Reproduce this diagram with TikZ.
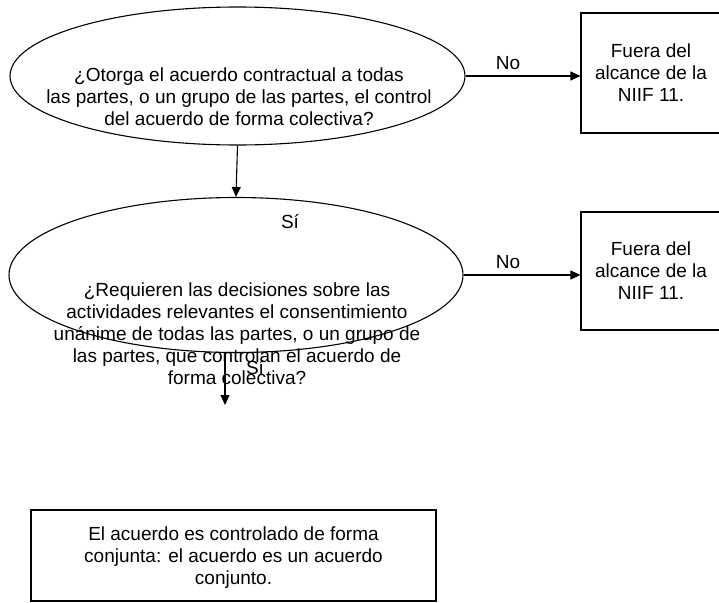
\documentclass[tikz,border=0pt]{standalone}
\usepackage{fontspec}
\setmainfont{Liberation Sans}
\usetikzlibrary{shapes.geometric,arrows.meta}

\begin{document}
\begin{tikzpicture}[x=1pt,y=1pt,line width=1.1pt,
        font=\fontsize{19}{22}\selectfont,
        >={Triangle[length=10pt,width=9pt]}]
        \tikzstyle{every node}+=[inner sep=0pt]
        \tikzstyle{question}=[draw, ellipse, minimum width=455pt, minimum height=138pt]
        \tikzstyle{outbox}=[draw, rectangle, minimum width=140pt, minimum height=120pt, align=center]
        \useasboundingbox (0,0) rectangle (719,-602);
        % first question
        \node [question] (q1) at (237.5,-76) {};
        \node [align=center] (q1text) at (239,-97) {¿Otorga el acuerdo contractual a todas\\las partes, o un grupo de las partes, el control\\del acuerdo de forma colectiva?};
        \node [outbox] (out1) at (651,-73) {Fuera del\\alcance de la\\NIIF 11.};
        \draw [->] (q1.east) -- (q1.east -| out1.west) node [pos=0.37, above=6pt] (no1) {No};
        % second question
        \node [question, minimum width=454pt, minimum height=155pt] (q2) at (236,-275) {};
        \node (si1) at (290,-222) {Sí};
        \node [align=center] (q2text) at (237,-334) {¿Requieren las decisiones sobre las\\actividades relevantes el consentimiento\\unánime de todas las partes, o un grupo de\\las partes, que controlan el acuerdo de\\forma colectiva?};
        \node [outbox, minimum height=118pt] (out2) at (651,-271) {Fuera del\\alcance de la\\NIIF 11.};
        \draw [->] (q2.east) -- (q2.east -| out2.west) node [pos=0.38, above=6pt] (no2) {No};
        \draw [->] (q1.south) -- (q2.north);
        % result
        \coordinate (q2end) at (225,-405);
        \draw [->] (q2.south -| q2end) -- (q2end);
        \node (si2) at (255,-368) {Sí};
        \node [draw, minimum width=405pt, minimum height=91pt, align=center, text depth=0pt] (joint) at (233.5,-555.5) {El acuerdo es controlado de forma\\conjunta: el acuerdo es un acuerdo\\conjunto.};
\end{tikzpicture}
\end{document}
